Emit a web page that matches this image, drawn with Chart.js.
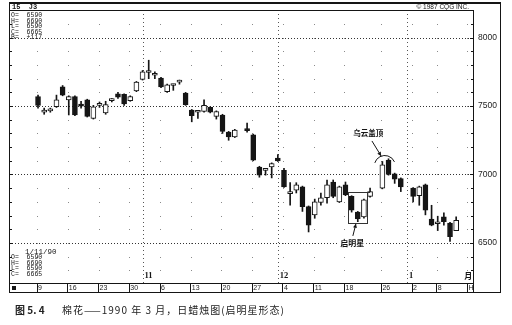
<!DOCTYPE html>
<html>
<head>
<meta charset="utf-8">
<script src="https://cdn.jsdelivr.net/npm/chart.js@4.4.1/dist/chart.umd.min.js"></script>
<style>
html,body{margin:0;padding:0;background:#fff;}
#wrap{position:relative;width:512px;height:325px;overflow:hidden;background:#fff;}
#c{position:absolute;left:0;top:0;}
.cap{position:absolute;top:304px;font-family:"Noto Sans CJK SC";font-size:10px;color:#222;white-space:pre;line-height:12px;}
</style>
</head>
<body>
<div id="wrap">
<canvas id="c" width="512" height="325"></canvas>
<div class="cap" style="left:15px;font-weight:bold">图 5. 4</div>
<div class="cap" style="left:62px;letter-spacing:1px">棉花——1990 年 3 月，日蜡烛图(启明星形态)</div>
</div>
<script>
// trading-day slot index (weekdays from Mon 9 Oct 1989; holidays leave gaps)
const dayIndex = [0,1,2,3,4,5,6,7,8,9,10,11,12,13,14,15,16,17,18,19,20,21,22,23,24,25,26,27,28,29,30,31,32,34,35,36,37,38,39,40,41,42,43,44,45,46,47,48,49,50,51,52,53,54,56,57,58,59,61,62,63,64,65,66,67,68];
const opens = [7570,7455,7465,7495,7640, 7545,7570,7515,7545,7410, 7505,7450,7540,7590,7585, 7540,7610,7695,7745,7725, 7705,7605,7650,7675,7595, 7470,7455,7460,7490,7425, 7435,7310,7275, 7330, 7290,7055,7030,7055,7120, 7030,6860,6885,6910,6765, 6705,6795,6830,6945,6800, 6925,6840,6725,6690,6840, 6900,7105,7005,6970, 6900,6845,6925,6675, 6640,6690,6645,6590];
const highs = [7580,7485,7485,7580,7650, 7575,7575,7535,7550,7505, 7530,7535,7555,7600,7590, 7575,7680,7760,7835,7750, 7710,7660,7660,7690,7600, 7475,7460,7545,7495,7465, 7440,7315,7330, 7375, 7295,7060,7040,7085,7145, 7045,6940,6940,6915,6770, 6820,6865,6960,6960,6915, 6945,6845,6730,6820,6900, 7095,7115,7010,6975, 6905,6915,6930,6775, 6695,6720,6650,6690];
const lows = [7485,7440,7455,7490,7575, 7435,7430,7485,7420,7405, 7490,7440,7530,7555,7505, 7535,7605,7690,7700,7700, 7635,7600,7615,7660,7505, 7385,7410,7455,7450,7405, 7300,7250,7270, 7310, 7100,6980,6995,6975,7095, 6905,6775,6865,6730,6580, 6680,6775,6790,6830,6795, 6845,6725,6655,6680,6835, 6895,6995,6935,6875, 6800,6775,6705,6625, 6590,6630,6510,6590];
const closes = [7505,7470,7470,7545,7580, 7570,7435,7500,7425,7495, 7510,7510,7545,7565,7515, 7570,7675,7750,7755,7730, 7640,7655,7655,7680,7510, 7430,7460,7505,7455,7460, 7315,7275,7325, 7320, 7105,6995,7035,7080,7100, 6910,6865,6925,6765,6630, 6800,6830,6925,6840,6910, 6850,6740,6675,6815,6875, 7070,7000,6965,6910, 6840,6910,6740,6630, 6645,6655,6545,6665];

const weekTickIndex = [0,5,10,15,20,25,30,35,40,45,50,56,61,65,70];
const weekTickLabels = ['9','16','23','30','6','13','20','27','4','11','18','26','2','8','H'];
const priceTicks = [6500,7000,7500,8000];
const monthLineIndex = [17,39,60];
const monthLabelIndex = [17,39,60,69];
const monthLabels = ['11','12','1','月'];

// annotation anchors (data units)
const cloudNote = {label:'乌云盖顶', at:[53.7,7303], from:[54.3,7245], to:[55.8,7135], arc:[56.4,7062]};
const starNote = {label:'启明星', at:[51.1,6500], from:[51.2,6551], to:[51.7,6640], box:[50.4,53.55,6874,6645], lineTo:54.0};

const INK = '#151515';

function arrow(ctx, x1, y1, x2, y2) {
  ctx.beginPath(); ctx.moveTo(x1, y1); ctx.lineTo(x2, y2); ctx.stroke();
  const a = Math.atan2(y2 - y1, x2 - x1), h = 4, w = 2;
  ctx.beginPath();
  ctx.moveTo(x2, y2);
  ctx.lineTo(x2 - h*Math.cos(a) + w*Math.sin(a), y2 - h*Math.sin(a) - w*Math.cos(a));
  ctx.lineTo(x2 - h*Math.cos(a) - w*Math.sin(a), y2 - h*Math.sin(a) + w*Math.cos(a));
  ctx.closePath(); ctx.fill();
}

const decor = {
  id: 'decor',
  beforeDatasetsDraw(chart) {
    const {ctx, chartArea: a, scales: {x, y}} = chart;
    ctx.save();
    ctx.fillStyle = '#8a8a8a';
    for (const w of weekTickIndex) {
      const px = Math.round(x.getPixelForValue(w) - 1);
      if (px <= a.left + 2 || px >= a.right - 2) continue;
      for (let p = 6300; p <= 8200; p += 100) {
        const py = Math.round(y.getPixelForValue(p));
        if (py < a.top + 2 || py > a.bottom - 2) continue;
        ctx.fillRect(px, py, 1, 1);
      }
    }
    ctx.lineWidth = 1;
    ctx.strokeStyle = '#555';
    ctx.setLineDash([1, 3]);
    for (const m of monthLineIndex) {
      const px = Math.round(x.getPixelForValue(m)) + 0.5;
      ctx.beginPath(); ctx.moveTo(px, a.top); ctx.lineTo(px, a.bottom); ctx.stroke();
    }
    ctx.strokeStyle = '#333';
    ctx.setLineDash([1, 2]);
    for (const p of priceTicks) {
      const py = Math.round(y.getPixelForValue(p)) + 0.5;
      ctx.beginPath(); ctx.moveTo(a.left, py); ctx.lineTo(a.right, py); ctx.stroke();
    }
    ctx.restore();
  },
  afterDraw(chart) {
    const {ctx, chartArea: a, scales: {x, y}} = chart;
    const L = a.left, R = a.right, T = a.top, B = a.bottom, S = B + 9, OUT = 500;
    ctx.save();
    ctx.strokeStyle = INK; ctx.fillStyle = INK; ctx.lineWidth = 1;
    const ln = (x1, y1, x2, y2) => { ctx.beginPath(); ctx.moveTo(x1, y1); ctx.lineTo(x2, y2); ctx.stroke(); };
    // frame
    ctx.lineWidth = 2; ln(L, 3, OUT + 1, 3); ctx.lineWidth = 1;
    ln(L, T + 0.5, R, T + 0.5);
    ln(L + 0.5, 3, L + 0.5, S + 0.5);
    ln(R - 0.5, T, R - 0.5, S + 0.5);
    ln(OUT + 0.5, 3, OUT + 0.5, S + 0.5);
    ln(L, B + 0.5, R, B + 0.5);
    ln(L, S + 0.5, OUT + 1, S + 0.5);
    // border ticks each 100
    for (let p = 6300; p <= 8200; p += 100) {
      const py = Math.round(y.getPixelForValue(p)) + 0.5;
      if (py < T + 2 || py > B - 1) continue;
      const len = p % 500 === 0 ? 4 : 3;
      ln(L, py, L + len, py);
      ln(R - len, py, R, py);
    }
    // date strip tick marks
    for (const w of weekTickIndex) {
      const px = Math.round(x.getPixelForValue(w) - 1.5) + 0.5;
      ln(px, B, px, S);
    }
    ctx.fillRect(L + 3, B + 3, 4, 4);

    // annotations: dark cloud cover
    ctx.font = 'bold 7.5px "Noto Sans CJK SC"';
    ctx.textAlign = 'center'; ctx.textBaseline = 'middle';
    ctx.fillText(cloudNote.label, x.getPixelForValue(cloudNote.at[0]), y.getPixelForValue(cloudNote.at[1]));
    arrow(ctx, x.getPixelForValue(cloudNote.from[0]), y.getPixelForValue(cloudNote.from[1]),
               x.getPixelForValue(cloudNote.to[0]), y.getPixelForValue(cloudNote.to[1]));
    ctx.beginPath();
    ctx.arc(x.getPixelForValue(cloudNote.arc[0]), y.getPixelForValue(cloudNote.arc[1]), 10.5, Math.PI + 0.3, 2 * Math.PI - 0.4);
    ctx.stroke();

    // annotations: morning star
    const sx = x.getPixelForValue(starNote.at[0]), sy = y.getPixelForValue(starNote.at[1]);
    ctx.font = 'bold 8px "Noto Sans CJK SC"';
    const tw = ctx.measureText(starNote.label).width;
    ctx.fillStyle = '#fff'; ctx.fillRect(sx - tw/2 - 2, sy - 5, tw + 4, 10);
    ctx.fillStyle = INK;
    ctx.fillText(starNote.label, sx, sy);
    arrow(ctx, x.getPixelForValue(starNote.from[0]), y.getPixelForValue(starNote.from[1]),
               x.getPixelForValue(starNote.to[0]), y.getPixelForValue(starNote.to[1]));
    const [bx1, bx2, by1, by2] = starNote.box;
    const X1 = Math.round(x.getPixelForValue(bx1)) + 0.5, X2 = Math.round(x.getPixelForValue(bx2)) + 0.5;
    const Y1 = Math.round(y.getPixelForValue(by1)) + 0.5, Y2 = Math.round(y.getPixelForValue(by2)) + 0.5;
    ctx.strokeStyle = '#333';
    ctx.strokeRect(X1, Y1, X2 - X1, Y2 - Y1);
    ln(X2, Y1, x.getPixelForValue(starNote.lineTo), Y1);

    // month labels
    ctx.fillStyle = INK;
    ctx.font = 'bold 8px "Liberation Serif"';
    ctx.textAlign = 'left'; ctx.textBaseline = 'middle';
    monthLabelIndex.forEach((m, i) => {
      const f = monthLabels[i] === '月' ? 'bold 8px "Noto Sans CJK SC"' : 'bold 8.5px "Liberation Serif"';
      ctx.font = f;
      ctx.fillText(monthLabels[i], x.getPixelForValue(m) + 2, B - 7);
    });

    // header texts
    const n = opens.length - 1;
    ctx.font = 'bold 7px "Liberation Mono"';
    ctx.fillText('15  J3', L + 3, 7);
    ctx.font = '6.5px "Liberation Mono"';
    const top = ['O=  ' + opens[n], 'H=  ' + highs[n], 'L=  ' + lows[n], 'C=  ' + closes[n], 'B=  +117'];
    top.forEach((s, i) => ctx.fillText(s, L + 2, 15.5 + i * 5.5));
    ctx.font = '6.5px "Liberation Sans"';
    ctx.textAlign = 'right';
    ctx.fillText('© 1987 CQG INC.', R - 5, 7);
    ctx.textAlign = 'left';
    ctx.font = '7.5px "Liberation Mono"';
    ctx.fillText('1/11/90', L + 16, 252);
    ctx.font = '6.5px "Liberation Mono"';
    const bot = ['O=  ' + opens[n], 'H=  ' + highs[n], 'L=  ' + lows[n], 'C=  ' + closes[n]];
    bot.forEach((s, i) => ctx.fillText(s, L + 2, 257.5 + i * 5.5));
    ctx.restore();
  }
};

new Chart(document.getElementById('c'), {
  type: 'bar',
  data: {
    datasets: [
      {
        label: 'body',
        data: dayIndex.map((d, i) => ({x: d, y: [opens[i], closes[i]]})),
        barThickness: 5, minBarLength: 2, borderWidth: 1, borderColor: INK, borderSkipped: false,
        backgroundColor: c => closes[c.dataIndex] >= opens[c.dataIndex] ? '#ffffff' : INK,
        grouped: false
      },
      {
        label: 'wick',
        data: dayIndex.map((d, i) => ({x: d, y: [lows[i], highs[i]]})),
        barThickness: 1, borderWidth: 0, backgroundColor: INK, grouped: false
      }
    ]
  },
  options: {
    responsive: false, animation: false, devicePixelRatio: 1,
    layout: {padding: {left: 9, top: 10, right: 0, bottom: 32}},
    plugins: {legend: {display: false}, tooltip: {enabled: false}},
    scales: {
      x: {
        type: 'linear', min: -4.72, max: 70.9, offset: false,
        grid: {display: false, drawTicks: false}, border: {display: false},
        afterBuildTicks: s => { s.ticks = weekTickIndex.map(v => ({value: v})); },
        afterFit: s => { s.height = 10; },
        ticks: {autoSkip: false, maxRotation: 0, minRotation: 0, align: 'start', padding: 1, labelOffset: 0,
                font: {size: 7, family: 'Liberation Sans'}, color: '#222',
                callback: (v, i) => weekTickLabels[i]}
      },
      y: {
        type: 'linear', position: 'right', min: 6207, max: 8202,
        grid: {display: false, drawTicks: false}, border: {display: false},
        afterBuildTicks: s => { s.ticks = priceTicks.map(v => ({value: v})); },
        afterFit: s => { s.width = 38; },
        ticks: {padding: 4, font: {size: 8.5, family: 'Liberation Sans'}, color: '#222', callback: v => String(v)}
      }
    }
  },
  plugins: [decor]
});
</script>
</body>
</html>
